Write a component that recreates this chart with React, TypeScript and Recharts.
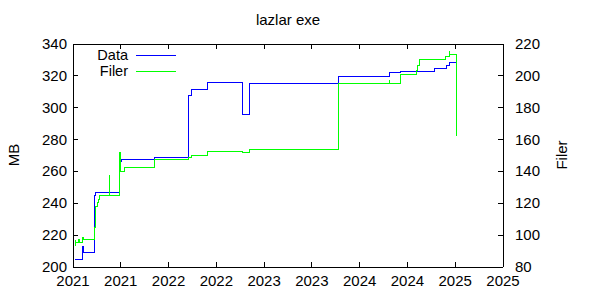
import { LineChart, Line, XAxis, YAxis, ReferenceLine } from 'recharts';

// x positions are decimal years
const X_TICKS = [2021, 2021.5, 2022, 2022.5, 2023, 2023.5, 2024, 2024.5, 2025, 2025.5];
const MB_TICKS = [200, 220, 240, 260, 280, 300, 320, 340];
const FILER_TICKS = [80, 100, 120, 140, 160, 180, 200, 220];

const DATA_YEARS = [
  2021.02, 2021.1, 2021.105, 2021.23, 2021.24, 2021.49, 2021.51, 2021.85, 2022.21, 2022.245,
  2022.41, 2022.77, 2022.85, 2023.78, 2024.31, 2024.43, 2024.78, 2024.91, 2024.94, 2025.015,
];
const DATA_MB = [
  205, 212.7, 209, 245, 247, 266, 267.5, 269, 307.5, 311.3,
  316, 296, 315, 319.5, 322, 323, 324.7, 326.7, 328.3, 328.3,
];

const FILER_YEARS = [
  2021.02, 2021.022, 2021.025, 2021.06, 2021.065, 2021.1, 2021.105, 2021.23, 2021.24, 2021.255,
  2021.27, 2021.28, 2021.38, 2021.385, 2021.49, 2021.5, 2021.54, 2021.85, 2022.21, 2022.245,
  2022.41, 2022.77, 2022.85, 2023.78, 2024.31, 2024.315, 2024.43, 2024.59, 2024.6, 2024.63,
  2024.78, 2024.9, 2024.94, 2024.945, 2025.015,
];
const FILER_COUNT = [
  93.7, 96.9, 95.2, 97, 95.2, 98.6, 97.3, 105, 117.7, 120.8,
  122.3, 125, 137.5, 125, 152, 140, 142.5, 147.5, 148.6, 149.8,
  152.5, 151.9, 153.6, 195.4, 197.3, 195.4, 200.6, 203.5, 206.7, 210,
  210.4, 211.9, 215, 213.5, 162.5,
];

const dataSeries = DATA_YEARS.map((t, i) => ({ t, mb: DATA_MB[i] }));
const filerSeries = FILER_YEARS.map((t, i) => ({ t, filer: FILER_COUNT[i] }));

const FONT = '"Liberation Sans", Arial, sans-serif';
const FS = 15;
const PLOT = { left: 73, right: 503, top: 44, bottom: 267 };
const TICK_LEN = 5;
const BLUE = '#0000ff';
const GREEN = '#00ff00';

function XTick({ x, payload }: any) {
  return (
    <g>
      <line x1={x} x2={x} y1={PLOT.bottom} y2={PLOT.bottom - TICK_LEN} stroke="#000" shapeRendering="crispEdges" />
      <line x1={x} x2={x} y1={PLOT.top} y2={PLOT.top + TICK_LEN} stroke="#000" shapeRendering="crispEdges" />
      <text x={x} y={PLOT.bottom + 19} textAnchor="middle" fontFamily={FONT} fontSize={FS} fill="#000">
        {Math.floor(payload.value)}
      </text>
    </g>
  );
}

function LeftTick({ y, payload }: any) {
  return (
    <g>
      <line x1={PLOT.left} x2={PLOT.left + TICK_LEN} y1={y} y2={y} stroke="#000" shapeRendering="crispEdges" />
      <text x={PLOT.left - 6} y={y + 5} textAnchor="end" fontFamily={FONT} fontSize={FS} fill="#000">
        {payload.value}
      </text>
    </g>
  );
}

function RightTick({ y, payload }: any) {
  return (
    <g>
      <line x1={PLOT.right - TICK_LEN} x2={PLOT.right} y1={y} y2={y} stroke="#000" shapeRendering="crispEdges" />
      <text x={PLOT.right + 12} y={y + 5} textAnchor="start" fontFamily={FONT} fontSize={FS} fill="#000">
        {payload.value}
      </text>
    </g>
  );
}

const SERIES = [
  { name: 'Data', color: BLUE },
  { name: 'Filer', color: GREEN },
];

export default function App() {
  return (
    <div style={{ position: 'fixed', left: 0, top: 0, width: 600, height: 300, background: '#fff', fontFamily: FONT }}>
      <LineChart width={600} height={300} margin={{ top: PLOT.top, right: 0, bottom: 0, left: 0 }}>
        <XAxis
          dataKey="t"
          type="number"
          domain={[2021, 2025.5]}
          ticks={X_TICKS}
          allowDataOverflow
          height={300 - PLOT.bottom}
          axisLine={{ stroke: '#000', shapeRendering: 'crispEdges' }}
          tickLine={false}
          tick={<XTick />}
          interval={0}
        />
        <YAxis
          yAxisId="left"
          domain={[200, 340]}
          ticks={MB_TICKS}
          width={PLOT.left}
          axisLine={{ stroke: '#000', shapeRendering: 'crispEdges' }}
          tickLine={false}
          tick={<LeftTick />}
          interval={0}
        />
        <YAxis
          yAxisId="right"
          orientation="right"
          domain={[80, 220]}
          ticks={FILER_TICKS}
          width={600 - PLOT.right}
          axisLine={{ stroke: '#000', shapeRendering: 'crispEdges' }}
          tickLine={false}
          tick={<RightTick />}
          interval={0}
        />
        <ReferenceLine yAxisId="left" y={340} stroke="#000" shapeRendering="crispEdges" />
        <Line
          data={dataSeries}
          dataKey="mb"
          name="Data"
          yAxisId="left"
          type="stepAfter"
          stroke={BLUE}
          strokeWidth={1}
          dot={false}
          activeDot={false}
          isAnimationActive={false}
          shapeRendering="crispEdges"
        />
        <Line
          data={filerSeries}
          dataKey="filer"
          name="Filer"
          yAxisId="right"
          type="stepAfter"
          stroke={GREEN}
          strokeWidth={1}
          dot={false}
          activeDot={false}
          isAnimationActive={false}
          shapeRendering="crispEdges"
        />
      </LineChart>

      <div style={{ position: 'absolute', left: 0, width: 576, top: 10, textAlign: 'center', fontSize: FS, lineHeight: '20px' }}>
        lazlar exe
      </div>
      <div
        style={{
          position: 'absolute', left: 14, top: 155, fontSize: FS, lineHeight: '20px',
          transform: 'translate(-50%, -50%) rotate(-90deg)', whiteSpace: 'nowrap',
        }}
      >
        MB
      </div>
      <div
        style={{
          position: 'absolute', left: 562, top: 155, fontSize: FS, lineHeight: '20px',
          transform: 'translate(-50%, -50%) rotate(-90deg)', whiteSpace: 'nowrap',
        }}
      >
        Filer
      </div>

      {SERIES.map((s, i) => (
        <div key={s.name} style={{ position: 'absolute', left: 0, top: 47 + i * 16, height: 16, width: 180 }}>
          <span style={{ position: 'absolute', right: 180 - 128, top: 0, fontSize: 14.5, lineHeight: '16px' }}>{s.name}</span>
          <div style={{ position: 'absolute', left: 136, width: 40, top: 8, height: 1, background: s.color }} />
        </div>
      ))}
    </div>
  );
}
